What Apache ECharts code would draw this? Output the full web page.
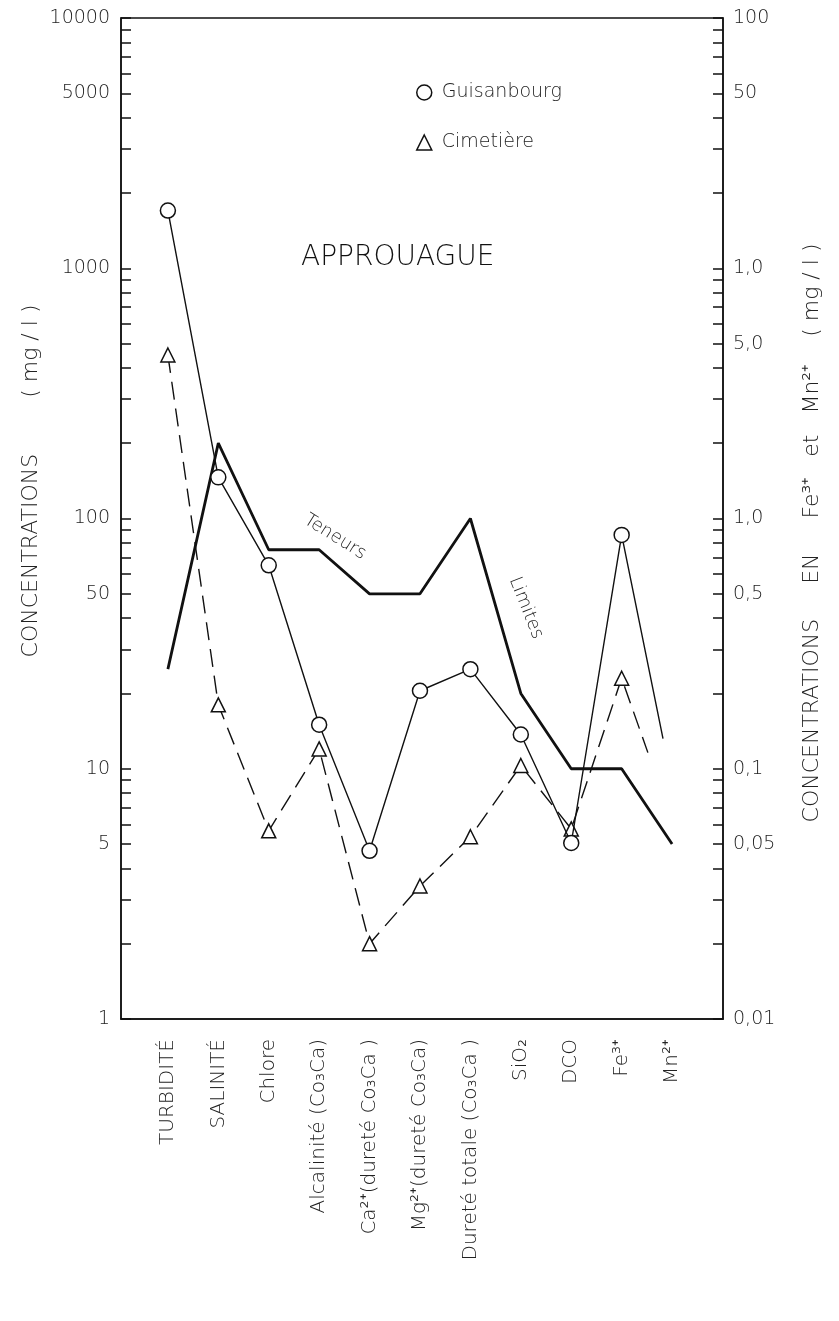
<!DOCTYPE html>
<html>
<head>
<meta charset="utf-8">
<script src="https://cdn.jsdelivr.net/npm/echarts@6/dist/echarts.min.js"></script>
<style>
  html, body { margin: 0; padding: 0; background: #fff; }
  #chart { width: 839px; height: 1321px; }
</style>
</head>
<body>
<div id="chart"></div>
<script>
// ---------- data ----------
const categories = [
  'TURBIDITÉ', 'SALINITÉ', 'Chlore', 'Alcalinité (Co₃Ca)',
  'Ca²⁺(dureté Co₃Ca )', 'Mg²⁺(dureté Co₃Ca)', 'Dureté totale (Co₃Ca )',
  'SiO₂', 'DCO', 'Fe³⁺', 'Mn²⁺'
];
// mg/l ; first 9 on the left axis, Fe3+ and Mn2+ (last two) on the right axis
const guisanbourg = [1700, 146, 65, 15, 4.7, 20.5, 25, 13.7, 5.05, 0.86, 0.132];
const cimetiere   = [450, 18, 5.65, 12, 2.0, 3.4, 5.35, 10.3, 5.75, 0.23, 0.116];
const teneursLimites = [25, 200, 75, 75, 50, 50, 100, 20, 10, 0.1, 0.05];
// the hand-drawn Mn2+ segments of the two stations stop short of the Mn2+ column
const mnSegmentEnd = { guisanbourg: 9.82, cimetiere: 9.52, limites: 10 };

const leftTickValues  = [1, 5, 10, 50, 100, 1000, 5000, 10000];
const rightTickValues = [0.01, 0.05, 0.1, 0.5, 1, 5, 10, 50, 100];
const rightTickLabels = ['0,01', '0,05', '0,1', '0,5', '1,0', '5,0', '1,0', '50', '100'];

const leftRange  = [1, 10000];
const rightRange = [0.01, 100];
const axisRatio = leftRange[1] / rightRange[1];   // right axis = left axis / 100
const rightStart = 9;                              // index where right-axis parameters begin

function minorTicks(lo, hi) {
  const out = [];
  for (let d = lo; d < hi; d *= 10) {
    for (let m = 1; m <= 9; m++) out.push(+(m * d).toPrecision(6));
  }
  out.push(hi);
  return out;
}

function buildData(values, endPos) {
  return values.map((v, i) => {
    const y = i >= rightStart ? v * axisRatio : v;
    const x = i === values.length - 1 ? endPos : i;
    const item = { value: [x, y] };
    if (i === values.length - 1) item.symbol = 'none';
    return item;
  });
}

const FONT = 'DejaVu Sans';
const INK = '#111';
const TXT = '#222';

const chart = echarts.init(document.getElementById('chart'), null, { renderer: 'canvas' });

const option = {
  backgroundColor: '#fff',
  animation: false,
  textStyle: { fontFamily: FONT },
  grid: { left: 121, right: 116, top: 18, bottom: 302, show: true, borderColor: INK, borderWidth: 1.5, backgroundColor: 'transparent' },
  title: {
    text: 'APPROUAGUE',
    left: 296, top: 239,
    textStyle: { fontFamily: FONT, fontSize: 28, fontWeight: 300, color: INK }
  },
  legend: {
    orient: 'vertical',
    left: 411, top: 78,
    itemWidth: 15, itemHeight: 15, itemGap: 31,
    textStyle: { fontFamily: FONT, fontSize: 19, fontWeight: 300, color: TXT, padding: [0, 0, 0, 5] },
    data: [
      { name: 'Guisanbourg', icon: 'circle', itemStyle: { color: '#fff', borderColor: INK, borderWidth: 1.5 } },
      { name: 'Cimetière', icon: 'triangle', itemStyle: { color: '#fff', borderColor: INK, borderWidth: 1.5 } }
    ]
  },
  xAxis: {
    type: 'value',
    min: -0.93, max: 11.01,
    splitLine: { show: false },
    axisLine: { show: true, onZero: false, lineStyle: { color: INK, width: 1.5 } },
    axisTick: { show: false },
    axisLabel: {
      customValues: categories.map((c, i) => i),
      formatter: v => categories[Math.round(v)],
      rotate: 90,
      margin: 20,
      fontFamily: FONT, fontSize: 20, fontWeight: 300, color: TXT
    }
  },
  yAxis: [
    {
      type: 'log', logBase: 10, min: leftRange[0], max: leftRange[1],
      position: 'left',
      splitLine: { show: false },
      axisLine: { show: true, onZero: false, lineStyle: { color: INK, width: 1.5 } },
      axisTick: { show: true, inside: true, length: 10, lineStyle: { color: INK, width: 1.5 }, customValues: minorTicks(1, 10000) },
      axisLabel: {
        customValues: leftTickValues,
        formatter: v => String(Math.round(v)),
        margin: 11,
        fontFamily: FONT, fontSize: 19, fontWeight: 300, color: TXT
      }
    },
    {
      type: 'log', logBase: 10, min: rightRange[0], max: rightRange[1],
      position: 'right',
      splitLine: { show: false },
      axisLine: { show: true, onZero: false, lineStyle: { color: INK, width: 1.5 } },
      axisTick: { show: true, inside: true, length: 10, lineStyle: { color: INK, width: 1.5 }, customValues: minorTicks(0.01, 100) },
      axisLabel: {
        customValues: rightTickValues,
        formatter: v => {
          const i = rightTickValues.findIndex(t => Math.abs(t - v) / t < 1e-6);
          return i >= 0 ? rightTickLabels[i] : '';
        },
        margin: 10,
        fontFamily: FONT, fontSize: 19, fontWeight: 300, color: TXT
      }
    }
  ],
  series: [
    {
      name: 'Teneurs limites',
      type: 'line',
      yAxisIndex: 0,
      symbol: 'none',
      data: buildData(teneursLimites, mnSegmentEnd.limites),
      lineStyle: { color: INK, width: 2.8 },
      itemStyle: { color: INK },
      z: 2
    },
    {
      name: 'Guisanbourg',
      type: 'line',
      yAxisIndex: 0,
      symbol: 'circle', symbolSize: 15,
      data: buildData(guisanbourg, mnSegmentEnd.guisanbourg),
      lineStyle: { color: INK, width: 1.4 },
      itemStyle: { color: '#fff', borderColor: INK, borderWidth: 1.5 },
      z: 4
    },
    {
      name: 'Cimetière',
      type: 'line',
      yAxisIndex: 0,
      symbol: 'triangle', symbolSize: 14,
      data: buildData(cimetiere, mnSegmentEnd.cimetiere),
      lineStyle: { color: INK, width: 1.4, type: [18, 9] },
      itemStyle: { color: '#fff', borderColor: INK, borderWidth: 1.5 },
      z: 3
    }
  ],
  graphic: [
    {
      type: 'text', x: 31, y: 481, rotation: Math.PI / 2,
      style: { text: 'CONCENTRATIONS        ( mg / l )', fontFamily: FONT, fontSize: 22, fontWeight: 300, fill: TXT, align: 'center', verticalAlign: 'middle' }
    },
    {
      type: 'text', x: 812, y: 533, rotation: Math.PI / 2,
      style: { text: 'CONCENTRATIONS     EN     Fe³⁺   et   Mn²⁺    ( mg / l )', fontFamily: FONT, fontSize: 22, fontWeight: 300, fill: TXT, align: 'center', verticalAlign: 'middle' }
    },
    {
      type: 'text', x: 335, y: 537, rotation: -0.56,
      style: { text: 'Teneurs', fontFamily: FONT, fontSize: 18, fontWeight: 300, fill: TXT, align: 'center', verticalAlign: 'middle' }
    },
    {
      type: 'text', x: 526, y: 608, rotation: -1.19,
      style: { text: 'Limites', fontFamily: FONT, fontSize: 18, fontWeight: 300, fill: TXT, align: 'center', verticalAlign: 'middle' }
    }
  ]
};

chart.setOption(option);
</script>
</body>
</html>
